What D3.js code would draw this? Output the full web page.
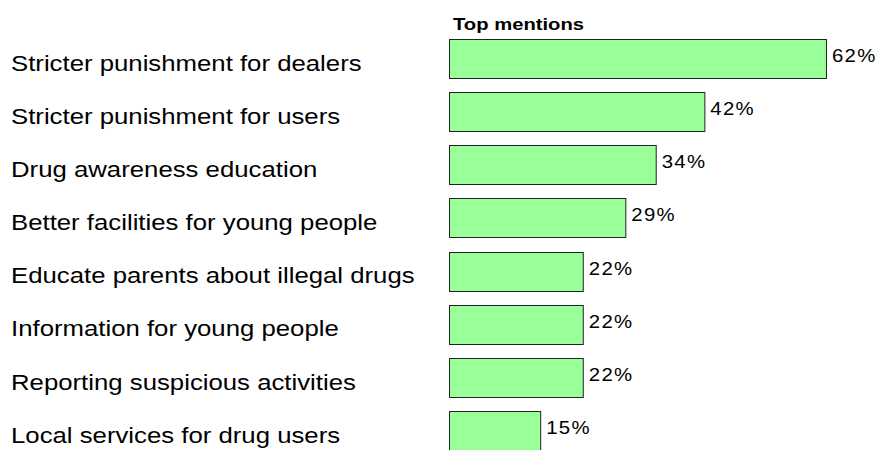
<!DOCTYPE html>
<html>
<head>
<meta charset="utf-8">
<script src="https://cdn.jsdelivr.net/npm/d3@7"></script>
<style>
  html, body { margin: 0; padding: 0; background: #fff; }
  svg { display: block; }
  text { font-family: "Liberation Sans", Arial, sans-serif; fill: #000; }
</style>
</head>
<body>
<svg id="chart"></svg>
<script>
// Survey responses: measures people would like to see against drugs
const categories = [
  "Stricter punishment for dealers",
  "Stricter punishment for users",
  "Drug awareness education",
  "Better facilities for young people",
  "Educate parents about illegal drugs",
  "Information for young people",
  "Reporting suspicious activities",
  "Local services for drug users"
];
const values = [62, 42, 34, 29, 22, 22, 22, 15];
const chartTitle = "Top mentions";

const W = 883, H = 450;

const svg = d3.select("#chart")
  .attr("width", W)
  .attr("height", H);

const x0 = 449;
const x = d3.scaleLinear().domain([0, 100]).range([x0, x0 + 608]);
const y = d3.scaleBand()
  .domain(categories)
  .range([39, 450])
  .paddingInner(0.265)
  .paddingOuter(0);

// Heading above the bars, set slightly wide
svg.append("text")
  .attr("transform", `translate(${x0 + 4},30) scale(1.17,1)`)
  .attr("font-size", 17.3)
  .attr("font-weight", "bold")
  .text(chartTitle);

const rows = svg.selectAll("g.row")
  .data(categories.map((c, i) => ({ c, v: values[i] })))
  .join("g")
  .attr("class", "row");

rows.append("rect")
  .attr("x", x(0) + 0.5)
  .attr("y", d => Math.round(y(d.c)) + 0.5)
  .attr("width", d => x(d.v) - x(0))
  .attr("height", Math.round(y.bandwidth()))
  .attr("fill", "#99ff99")
  .attr("stroke", "#222")
  .attr("stroke-width", 1);

// Percentages to the right of each bar
rows.append("text")
  .attr("transform", d => `translate(${x(d.v) + 6},${y(d.c) + y.bandwidth() / 2 - 3}) scale(1.1,1)`)
  .attr("dy", "0.35em")
  .attr("font-size", 18.5)
  .attr("letter-spacing", 1.2)
  .text(d => d.v + "%");

// Category names down the left side
rows.append("text")
  .attr("transform", d => `translate(11,${y(d.c) + y.bandwidth() / 2 + 4}) scale(1.12,1)`)
  .attr("dy", "0.36em")
  .attr("font-size", 23)
  .text(d => d.c);
</script>
</body>
</html>
